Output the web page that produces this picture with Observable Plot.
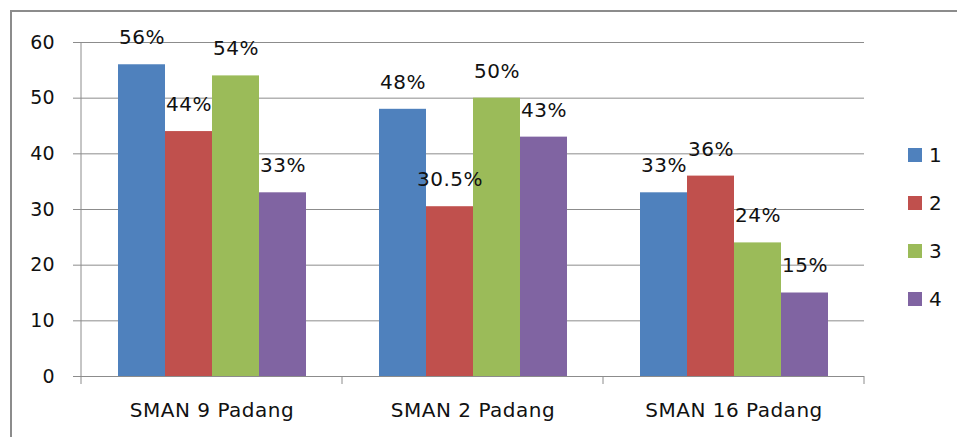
<!DOCTYPE html>
<html>
<head>
<meta charset="utf-8">
<script src="https://cdn.jsdelivr.net/npm/d3@7"></script>
<script src="https://cdn.jsdelivr.net/npm/@observablehq/plot@0.6"></script>
<style>
  html, body { margin: 0; padding: 0; background: #fff; }
  #wrap { position: relative; width: 957px; height: 437px; overflow: hidden; font-family: "DejaVu Sans", sans-serif; }
  #border { position: absolute; left: 10px; top: 10px; width: 960px; height: 440px; border-top: 2px solid #8c8c8c; border-left: 2px solid #8c8c8c; box-sizing: border-box; }
  #chart { position: absolute; left: 0; top: 0; }
  #chart svg text { fill: #111; letter-spacing: 0.5px; }
  #chart svg g[aria-label^="y-axis"] text { letter-spacing: 0; font-size: 19px; }
  #legend { position: absolute; left: 908px; top: 131px; font-size: 20px; color: #111; }
  .item { display: flex; align-items: center; height: 48px; }
  .sw { width: 14px; height: 14px; margin-right: 7px; }
</style>
</head>
<body>
<div id="wrap">
  <div id="border"></div>
  <div id="chart"></div>
  <div id="legend"></div>
</div>
<script>
const groups = ["SMAN 9 Padang", "SMAN 2 Padang", "SMAN 16 Padang"];
const seriesNames = ["1", "2", "3", "4"];
const series1 = [56, 48, 33];
const series2 = [44, 30.5, 36];
const series3 = [54, 50, 24];
const series4 = [33, 43, 15];
const yTicks = [0, 10, 20, 30, 40, 50, 60];
const colors = ["#4f81bd", "#c0504d", "#9bbb59", "#8064a2"];

const allSeries = [series1, series2, series3, series4];
const data = [];
groups.forEach((g, gi) => {
  seriesNames.forEach((s, si) => {
    data.push({group: g, series: s, value: allSeries[si][gi]});
  });
});

const plot = Plot.plot({
  width: 957,
  height: 437,
  marginLeft: 80,
  marginRight: 93,
  marginTop: 42,
  marginBottom: 61,
  style: {fontFamily: "DejaVu Sans, sans-serif", fontSize: "20px", color: "#8c8c8c", background: "transparent"},
  fx: {domain: groups, padding: 0, label: null, tickSize: 0, tickPadding: 26, axis: "bottom"},
  x: {domain: seriesNames, paddingInner: 0, paddingOuter: 0.745, axis: null},
  y: {domain: [0, 60], ticks: yTicks, tickSize: 8, tickPadding: 19, label: null},
  color: {domain: seriesNames, range: colors},
  marks: [
    Plot.gridY(yTicks, {stroke: "#8c8c8c", strokeOpacity: 1, strokeWidth: 1}),
    Plot.barY(data, {fx: "group", x: "series", y: "value", fill: "series"}),
    Plot.ruleY([0], {stroke: "#8c8c8c", strokeWidth: 1}),
    Plot.text(data, {fx: "group", x: "series", y: "value", text: d => d.value + "%", dy: -27, fontSize: 20})
  ]
});
document.getElementById("chart").appendChild(plot);

// y axis line and category boundary ticks from the library's scales
const svg = d3.select(plot);
const fx = plot.scale("fx");
const y = plot.scale("y");
const bw = fx.bandwidth;
const y0 = y.apply(0), yTop = y.apply(60);
const xs = groups.map(g => fx.apply(g));
xs.push(fx.apply(groups[groups.length - 1]) + bw);
svg.append("line").attr("x1", xs[0]).attr("x2", xs[0]).attr("y1", yTop).attr("y2", y0)
  .attr("stroke", "#8c8c8c");
xs.forEach(x => {
  svg.append("line").attr("x1", x).attr("x2", x).attr("y1", y0).attr("y2", y0 + 8)
    .attr("stroke", "#8c8c8c");
});

// legend
const color = plot.scale("color");
const legend = d3.select("#legend");
seriesNames.forEach(s => {
  const it = legend.append("div").attr("class", "item");
  it.append("div").attr("class", "sw").style("background", color.apply(s));
  it.append("span").text(s);
});
</script>
</body>
</html>
